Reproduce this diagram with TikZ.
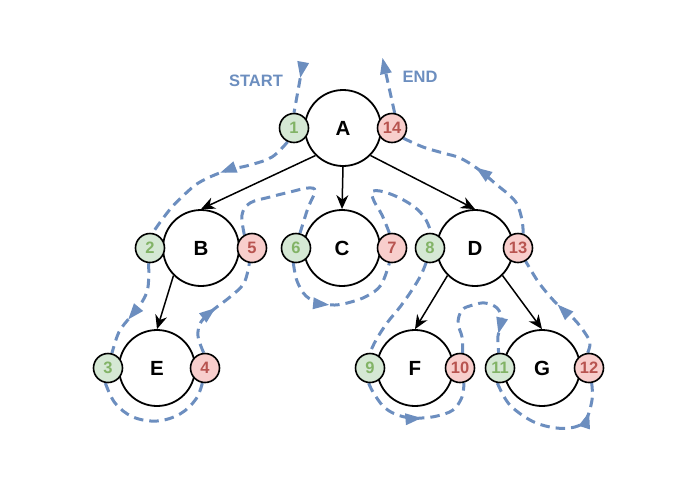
\documentclass[tikz,border=0pt]{standalone}
\usepackage{fontspec}
\setmainfont{Liberation Sans}
\usetikzlibrary{arrows.meta,decorations.markings}
\definecolor{trblue}{HTML}{6C8EBF}
\definecolor{gfill}{HTML}{D5E8D4}
\definecolor{gtext}{HTML}{82B366}
\definecolor{rfill}{HTML}{F8CECC}
\definecolor{rtext}{HTML}{B85450}
\pgfdeclarelayer{bg}
\pgfsetlayers{bg,main}
\begin{document}
\begin{tikzpicture}[x=1pt,y=-1pt,
  big/.style={circle,draw=black,line width=1.8pt,fill=white,minimum size=76pt,inner sep=0pt,font=\fontsize{20.5}{24}\selectfont\bfseries},
  gnum/.style={circle,draw=black,line width=1.6pt,fill=gfill,minimum size=29pt,inner sep=0pt,text=gtext,font=\fontsize{16.5}{19}\selectfont\bfseries},
  rnum/.style={circle,draw=black,line width=1.6pt,fill=rfill,minimum size=29pt,inner sep=0pt,text=rtext,font=\fontsize{16.5}{19}\selectfont\bfseries},
  lbl/.style={text=trblue,font=\fontsize{16.5}{20}\selectfont\bfseries,inner sep=0pt},
  tree/.style={line width=1.5pt,-{Stealth[length=14pt,width=12pt,inset=4.5pt]}},
  trav/.style={color=trblue,line width=3pt,dash pattern=on 9.5pt off 6pt,line cap=butt},
  midarr/.style={postaction={decorate,decoration={markings,mark=at position #1 with {\arrow{Triangle[length=16pt,width=12pt,line width=0pt]}}}}}
]
\useasboundingbox (0,0) rectangle (684,496);

% big nodes
\node[big] (A) at (343,128) {A};
\node[big] (B) at (201,248) {B};
\node[big] (C) at (342,248) {C};
\node[big] (D) at (475,248) {D};
\node[big] (E) at (157,368) {E};
\node[big] (F) at (415,368) {F};
\node[big] (G) at (542,368) {G};

% tree edges
\draw[tree] (A.-135) -- (B.north);
\draw[tree] (A.south) -- (C.north);
\draw[tree] (A.-45) -- (D.north);
\draw[tree] (B.-135) -- (E.north);
\draw[tree] (D.-135) -- (F.north);
\draw[tree] (D.-45) -- (G.north);

% small nodes
\node[gnum] (n1) at (294,128) {1};
\node[rnum] (n14) at (392,128) {14};
\node[gnum] (n2) at (150,248) {2};
\node[rnum] (n5) at (252,248) {5};
\node[gnum] (n6) at (296,248) {6};
\node[rnum] (n7) at (392,248) {7};
\node[gnum] (n8) at (430,248) {8};
\node[rnum] (n13) at (518,248) {13};
\node[gnum] (n3) at (108,368) {3};
\node[rnum] (n4) at (205,368) {4};
\node[gnum] (n9) at (370,368) {9};
\node[rnum] (n10) at (460,368) {10};
\node[gnum] (n11) at (500,368) {11};
\node[rnum] (n12) at (589,368) {12};

\node[lbl] (startl) at (256,81) {START};
\node[lbl] (endl) at (420,77) {END};
\coordinate (st) at (303,63);
\coordinate (en) at (382.5,58);

\begin{pgfonlayer}{bg}
\draw[trav,midarr=15pt] (st) -- (n1.90);
\draw[trav,midarr=0.45] plot[smooth,tension=0.6] coordinates {(n1.-115) (272,157) (250,165) (225,171) (200,182) (185,194) (172,207) (161,221) (n2.80)};
\draw[trav,midarr=0.62] plot[smooth,tension=0.6] coordinates {(n2.-95) (148,287) (142,302) (131,316) (119,332) (n3.75)};
\draw[trav] plot[smooth,tension=0.6] coordinates {(n3.-100) (115,403) (133,417) (157,421) (180,414) (196,399) (n4.-100)};
\draw[trav,midarr=0.47] plot[smooth,tension=0.6] coordinates {(n4.95) (198,336) (201,322) (213,310) (230,297) (244,283) (n5.-100)};
\draw[trav] plot[smooth,tension=0.6] coordinates {(n5.120) (242,215) (250,203) (270,197) (290,192) (308,188) (315,191) (308,208) (n6.75)};
\draw[trav,midarr=0.43] plot[smooth,tension=0.6] coordinates {(n6.-100) (297,281) (306,296) (320,303) (335,305) (351,302) (367,296) (381,285) (n7.-100)};
\draw[trav] plot[smooth,tension=0.6] coordinates {(n7.100) (382,215) (374,201) (372,192) (380,191) (393,195) (407,202) (418,210) (426,220) (n8.85)};
\draw[trav] plot[smooth,tension=0.6] coordinates {(n8.-105) (421,275) (412,290) (400,307) (387,323) (376,340) (n9.90)};
\draw[trav,midarr=0.52] plot[smooth,tension=0.6] coordinates {(n9.-95) (373,392) (383,406) (395,414) (410,418) (422,418) (437,416) (453,410) (462,397) (n10.-75)};
\draw[trav,midarr=0.85] plot[smooth,tension=0.6] coordinates {(n10.80) (462,337) (458,323) (462,310) (473,305) (485,303) (497,308) (502,320) (498,336) (n11.95)};
\draw[trav,midarr=0.80] plot[smooth,tension=0.6] coordinates {(n11.-100) (509,404) (530,420) (550,427) (570,428) (585,421) (592,400) (n12.-80)};
\draw[trav,midarr=0.53] plot[smooth,tension=0.6] coordinates {(n12.95) (590,343) (585,333) (574,319) (558,305) (547,293) (537,280) (n13.-60)};
\draw[trav,midarr=0.52] plot[smooth,tension=0.6] coordinates {(n13.70) (522,220) (517,204) (508,194) (497,185) (478,169) (460,158) (443,153) (423,147) (n14.-42)};
\draw[trav,-{Triangle[length=16pt,width=12pt,line width=0pt]}] (n14.80) -- (en);
\end{pgfonlayer}
\end{tikzpicture}
\end{document}
